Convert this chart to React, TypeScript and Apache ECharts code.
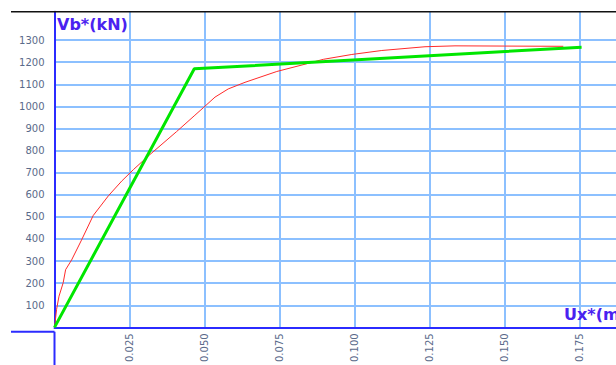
import React, { useEffect, useRef } from "react";
import * as echarts from "echarts";

// Capacity curve (red)
const capUx = [0, 0.0007, 0.0015, 0.0029, 0.0037, 0.0057, 0.009, 0.0129, 0.018, 0.0224, 0.0263, 0.0318, 0.0407, 0.0468, 0.0496, 0.0535, 0.0579, 0.0635, 0.0741, 0.0835, 0.0896, 0.0991, 0.1091, 0.1235, 0.1335, 0.15, 0.1696];
const capVb = [0, 82, 141, 202, 261, 305, 395, 506, 596, 662, 714, 782, 886, 960, 994, 1042, 1079, 1109, 1158, 1191, 1213, 1235, 1253, 1270, 1274, 1273, 1272];

// Bilinear idealisation (green)
const biUx = [0, 0.0466, 0.1757];
const biVb = [0, 1170, 1268];

const yTicks = [100, 200, 300, 400, 500, 600, 700, 800, 900, 1000, 1100, 1200, 1300];
const xTicks = [0.025, 0.05, 0.075, 0.1, 0.125, 0.15, 0.175];
const xTickLabels = ["0.025", "0.050", "0.075", "0.100", "0.125", "0.150", "0.175"];

const yTitle = "Vb*(kN)";
const xTitle = "Ux*(m)";

export default function App() {
  const ref = useRef<HTMLDivElement>(null);
  useEffect(() => {
    if (!ref.current) return;
    const chart = echarts.init(ref.current, null, { renderer: "svg" });
    const L = 54.5, T = 11.7, B = 331.7, W = 616;
    const gridColor = "#8cc0ff";
    const axisColor = "#2b2bff";
    const labelColor = "#5a6a8a";
    const font = "DejaVu Sans, Verdana, sans-serif";
    chart.setOption({
      animation: false,
      backgroundColor: "#ffffff",
      grid: { left: L, top: T, right: 0, bottom: 365 - B, containLabel: false },
      xAxis: {
        type: "value",
        min: 0,
        max: (W - L) / 3000,
        interval: 0.025,
        axisLine: { show: true, onZero: false, lineStyle: { color: axisColor, width: 2 } },
        axisTick: { show: false, customValues: xTicks },
        splitLine: { show: true, lineStyle: { color: gridColor, width: 2 } },
        axisLabel: {
          customValues: xTicks,
          rotate: 90,
          margin: 6,
          color: labelColor,
          fontFamily: font,
          fontSize: 10,
          formatter: (v: number) => {
            const i = xTicks.findIndex((t) => Math.abs(t - v) < 1e-9);
            return i >= 0 ? xTickLabels[i] : "";
          },
        },
      },
      yAxis: {
        type: "value",
        min: 0,
        max: ((B - T) / 22.4) * 100,
        interval: 100,
        axisLine: { show: true, onZero: false, lineStyle: { color: axisColor, width: 2 } },
        axisTick: { show: false, customValues: yTicks },
        splitLine: { show: true, lineStyle: { color: gridColor, width: 2 } },
        axisLabel: {
          customValues: yTicks,
          margin: 10,
          color: labelColor,
          fontFamily: font,
          fontSize: 10,
          formatter: (v: number) => String(Math.round(v)),
        },
      },
      graphic: [
        { type: "line", shape: { x1: 11, y1: T, x2: W, y2: T }, style: { stroke: "#111111", lineWidth: 1.5 }, z: 10 },
        { type: "line", shape: { x1: 11, y1: B, x2: L, y2: B }, style: { stroke: axisColor, lineWidth: 2 }, z: 10 },
        { type: "line", shape: { x1: L, y1: B, x2: L, y2: 365 }, style: { stroke: axisColor, lineWidth: 2 }, z: 10 },
        {
          type: "text", x: 57, y: 16, z: 10,
          style: { text: yTitle, fill: "#4a22f0", font: "bold 16px DejaVu Sans, Verdana, sans-serif" },
        },
        {
          type: "text", x: 564, y: 306, z: 10,
          style: { text: xTitle, fill: "#4a22f0", font: "bold 16px DejaVu Sans, Verdana, sans-serif" },
        },
      ],
      series: [
        {
          type: "line",
          data: capUx.map((u, i) => [u, capVb[i]]),
          showSymbol: false,
          lineStyle: { color: "#ff2a2a", width: 1 },
          z: 3,
        },
        {
          type: "line",
          data: biUx.map((u, i) => [u, biVb[i]]),
          showSymbol: false,
          lineStyle: { color: "#00e600", width: 3 },
          z: 4,
        },
      ],
    });
    return () => chart.dispose();
  }, []);
  return (
    <div style={{ position: "fixed", left: 0, top: 0, width: 616, height: 365, background: "#fff" }}>
      <div ref={ref} style={{ width: 616, height: 365 }} />
    </div>
  );
}
